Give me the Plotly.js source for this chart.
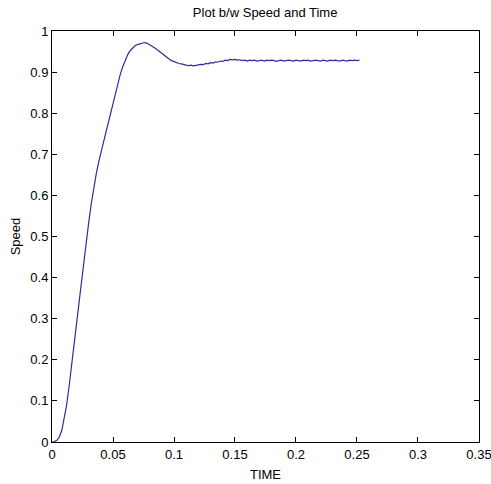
<!DOCTYPE html>
<html>
<head>
<meta charset="utf-8">
<script src="https://cdn.plot.ly/plotly-3.0.1.min.js"></script>
<style>html,body{margin:0;padding:0;background:#fff;}#chart{width:491px;height:484px;}</style>
</head>
<body>
<div id="chart"></div>
<script>
const time = [
  0.000,0.002,0.004,0.006,0.008,0.010,0.012,0.014,0.016,0.018,
  0.020,0.022,0.024,0.026,0.028,0.030,0.032,0.034,0.036,0.038,
  0.040,0.042,0.044,0.046,0.048,0.050,0.052,0.054,0.056,0.058,
  0.060,0.062,0.064,0.066,0.068,0.070,0.072,0.074,0.076,0.078,
  0.080,0.082,0.084,0.086,0.088,0.090,0.092,0.094,0.096,0.098,
  0.100,0.102,0.104,0.106,0.108,0.110,0.112,0.114,0.116,0.118,
  0.120,0.122,0.124,0.126,0.128,0.130,0.132,0.134,0.136,0.138,
  0.140,0.142,0.144,0.146,0.148,0.150,0.152,0.154,0.156,0.158,
  0.160,0.162,0.164,0.166,0.168,0.170,0.172,0.174,0.176,0.178,
  0.180,0.182,0.184,0.186,0.188,0.190,0.192,0.194,0.196,0.198,
  0.200,0.202,0.204,0.206,0.208,0.210,0.212,0.214,0.216,0.218,
  0.220,0.222,0.224,0.226,0.228,0.230,0.232,0.234,0.236,0.238,
  0.240,0.242,0.244,0.246,0.248,0.250,0.252
];
const speed = [
  0.000,0.001,0.004,0.012,0.028,0.055,0.090,0.135,0.182,0.232,
  0.283,0.335,0.385,0.438,0.486,0.532,0.576,0.615,0.648,0.678,
  0.704,0.728,0.751,0.775,0.799,0.825,0.851,0.874,0.895,0.913,
  0.929,0.942,0.952,0.959,0.964,0.967,0.969,0.971,0.972,0.970,
  0.967,0.963,0.959,0.955,0.950,0.945,0.941,0.936,0.932,0.928,
  0.925,0.922,0.921,0.920,0.918,0.917,0.916,0.917,0.915,0.916,
  0.917,0.919,0.918,0.921,0.920,0.923,0.922,0.925,0.924,0.927,
  0.926,0.929,0.928,0.931,0.930,0.931,0.929,0.930,0.928,0.929,
  0.927,0.929,0.928,0.929,0.927,0.928,0.929,0.927,0.929,0.928,
  0.929,0.928,0.926,0.928,0.929,0.927,0.928,0.929,0.928,0.927,
  0.929,0.928,0.927,0.929,0.928,0.929,0.927,0.928,0.929,0.928,
  0.927,0.929,0.928,0.927,0.929,0.928,0.929,0.928,0.927,0.929,
  0.928,0.927,0.929,0.928,0.929,0.928,0.929
];
const xTickVals = [0,0.05,0.1,0.15,0.2,0.25,0.3,0.35];
const xTickText = ['0','0.05','0.1','0.15','0.2','0.25','0.3','0.35'];
const yTickVals = [0,0.1,0.2,0.3,0.4,0.5,0.6,0.7,0.8,0.9,1];
const yTickText = ['0','0.1','0.2','0.3','0.4','0.5','0.6','0.7','0.8','0.9','1'];

const fontFam = '"Liberation Sans Narrow", "Liberation Sans", Arial, sans-serif';
const trace = {
  x: time, y: speed, type: 'scatter', mode: 'lines',
  line: {color: '#2e2e96', width: 1.2}, hoverinfo: 'none'
};
const axisCommon = {
  showline: true, linecolor: '#000', linewidth: 1, mirror: 'ticks',
  ticks: 'inside', ticklen: 5, tickcolor: '#000', tickwidth: 1,
  showgrid: false, zeroline: false, ticklabeloverflow: 'allow',
  tickfont: {family: fontFam, size: 13, color: '#000'}
};
const layout = {
  width: 491, height: 484,
  margin: {l: 52, r: 12, t: 31, b: 42},
  paper_bgcolor: '#fff', plot_bgcolor: '#fff',
  showlegend: false,
  font: {family: fontFam, color: '#000'},
  title: {text: 'Plot b/w Speed and Time', font: {family: fontFam, size: 13, color: '#000'},
          x: 0.54, xanchor: 'center', y: 0.974, yanchor: 'middle'},
  xaxis: Object.assign({}, axisCommon, {
    range: [0, 0.35001], tickmode: 'array', tickvals: xTickVals, ticktext: xTickText,
    title: {text: 'TIME', font: {family: fontFam, size: 13, color: '#000'}, standoff: 9}
  }),
  yaxis: Object.assign({}, axisCommon, {
    range: [0, 1.00001], tickmode: 'array', tickvals: yTickVals, ticktext: yTickText,
    title: {text: 'Speed', font: {family: fontFam, size: 13, color: '#000'}, standoff: 6}
  })
};
Plotly.newPlot('chart', [trace], layout, {displayModeBar: false, staticPlot: true});
</script>
</body>
</html>
